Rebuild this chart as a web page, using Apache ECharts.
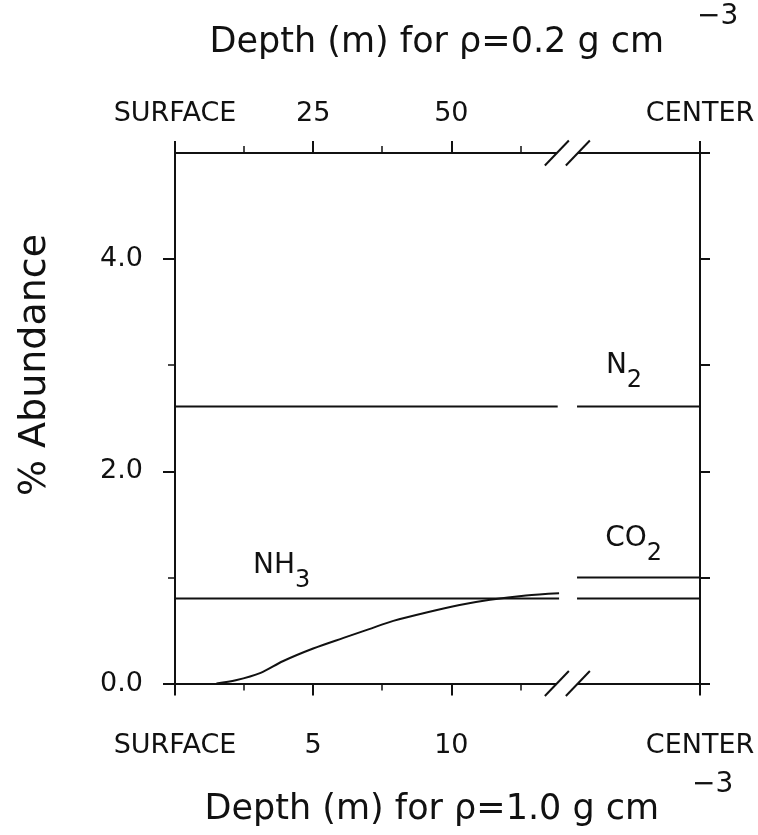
<!DOCTYPE html>
<html><head><meta charset="utf-8">
<script src="https://cdn.jsdelivr.net/npm/echarts@6/dist/echarts.min.js"></script>
<style>html,body{margin:0;padding:0;background:#fff}#c{width:758px;height:835px}</style>
</head><body><div id="c"></div>
<script>
// ---- axis definitions ----
const depthMax = 19;            // bottom axis extent (m, rho = 1.0), labelled CENTER
const densityRatio = 5;         // top axis (rho = 0.2) depth = 5 x bottom depth
const bottomTickValues = [0, 5, 10, 19];
const bottomTickLabels = ['SURFACE', '5', '10', 'CENTER'];
const bottomMinorTicks = [2.5, 7.5, 12.5];
const topTickValues = [0, 25, 50, 95];
const topTickLabels = ['SURFACE', '25', '50', 'CENTER'];
const topMinorTicks = [12.5, 37.5, 62.5];
const yLabelValues = [0, 2, 4];
const yMinorTicks = [1, 3];
const rightTicks = [0, 1, 2, 3, 4, 5];
const breakMarks = [[14.2, 0], [14.2, 5]];

// ---- series values (null = axis break gap) ----
const n2X = [0, 13.85, 14.2, 14.55, 19];
const n2Y = [2.61, 2.61, null, 2.61, 2.61];
const nh3X = [0, 13.9, 14.2, 14.55, 19];
const nh3Y = [0.80, 0.80, null, 0.80, 0.80];
const co2X = [14.55, 19];
const co2Y = [1.00, 1.00];
const profileX = [1.5, 2.2, 3.1, 3.9, 5.0, 6.1, 7.0, 7.9, 9.1, 10.3, 11.4, 12.7, 13.9];
const profileY = [0, 0.03, 0.10, 0.21, 0.33, 0.43, 0.51, 0.59, 0.67, 0.74, 0.79, 0.83, 0.85];

// ---- species labels ----
const speciesNames = ['N', 'CO', 'NH'];
const speciesSubs = ['2', '2', '3'];
const speciesX = [16.25, 16.6, 3.86];
const speciesY = [2.93, 1.30, 1.046];

const FONT = 'DejaVu Sans';
const INK = '#111';
const pairs = (xs, ys) => xs.map((x, i) => [x, ys[i] === null ? '-' : ys[i]]);

const chart = echarts.init(document.getElementById('c'), null, {renderer: 'canvas'});

const lineSeries = (name, xs, ys) => ({
  name, type: 'line', xAxisIndex: 0, yAxisIndex: 0,
  data: pairs(xs, ys), showSymbol: false, symbol: 'none',
  connectNulls: false, lineStyle: {color: INK, width: 2}, z: 3
});

const tickLabelStyle = {fontFamily: FONT, fontSize: 27, color: INK};
const frameLine = {show: true, onZero: false, lineStyle: {color: INK, width: 2}};
const noLine = {show: false, onZero: false};

const titleRich = {
  m: {fontFamily: FONT, fontSize: 35, lineHeight: 57, verticalAlign: 'bottom', fill: INK},
  s: {fontFamily: FONT, fontSize: 28, lineHeight: 30, verticalAlign: 'top', padding: [0, 0, 0, 33], fill: INK}
};

const option = {
  animation: false,
  backgroundColor: '#fff',
  grid: {left: 175, right: 58, top: 153, bottom: 151.5, show: false},
  xAxis: [
    { type: 'value', position: 'bottom', min: 0, max: depthMax,
      axisLine: frameLine,
      axisTick: {show: true, customValues: bottomTickValues, length: 12, lineStyle: {color: INK, width: 2}},
      axisLabel: Object.assign({show: true, customValues: bottomTickValues, margin: 49,
        formatter: v => bottomTickLabels[bottomTickValues.indexOf(v)] ?? ''}, tickLabelStyle),
      splitLine: {show: false} },
    { type: 'value', position: 'bottom', min: 0, max: depthMax,
      axisLine: noLine,
      axisTick: {show: true, customValues: bottomMinorTicks, length: 7, lineStyle: {color: INK, width: 1.5}},
      axisLabel: {show: false}, splitLine: {show: false} },
    { type: 'value', position: 'top', min: 0, max: depthMax * densityRatio,
      axisLine: frameLine,
      axisTick: {show: true, customValues: topTickValues, length: 12, lineStyle: {color: INK, width: 2}},
      axisLabel: Object.assign({show: true, customValues: topTickValues, margin: 26,
        formatter: v => topTickLabels[topTickValues.indexOf(v)] ?? ''}, tickLabelStyle),
      splitLine: {show: false} },
    { type: 'value', position: 'top', min: 0, max: depthMax * densityRatio,
      axisLine: noLine,
      axisTick: {show: true, customValues: topMinorTicks, length: 7, lineStyle: {color: INK, width: 1.5}},
      axisLabel: {show: false}, splitLine: {show: false} }
  ],
  yAxis: [
    { type: 'value', position: 'left', min: 0, max: 5,
      axisLine: frameLine,
      axisTick: {show: true, customValues: yLabelValues, length: 12, lineStyle: {color: INK, width: 2}},
      axisLabel: Object.assign({show: true, customValues: yLabelValues, margin: 32,
        formatter: v => v.toFixed(1)}, tickLabelStyle),
      splitLine: {show: false} },
    { type: 'value', position: 'left', min: 0, max: 5,
      axisLine: noLine,
      axisTick: {show: true, customValues: yMinorTicks, length: 7, lineStyle: {color: INK, width: 1.5}},
      axisLabel: {show: false}, splitLine: {show: false} },
    { type: 'value', position: 'right', min: 0, max: 5,
      axisLine: frameLine,
      axisTick: {show: true, customValues: rightTicks, length: 10, lineStyle: {color: INK, width: 2}},
      axisLabel: {show: false}, splitLine: {show: false} }
  ],
  graphic: [
    { type: 'text', x: 474, y: 31.5, z: 10,
      style: { text: '{m|Depth (m) for ρ=0.2 g cm}{s|−3}', align: 'center', verticalAlign: 'middle', rich: titleRich } },
    { type: 'text', x: 469, y: 799, z: 10,
      style: { text: '{m|Depth (m) for ρ=1.0 g cm}{s|−3}', align: 'center', verticalAlign: 'middle', rich: titleRich } },
    { type: 'text', x: 35, y: 365, rotation: Math.PI / 2, z: 10,
      style: { text: '% Abundance', fontFamily: FONT, fontSize: 38, fill: INK, align: 'center', verticalAlign: 'middle' } }
  ],
  series: [
    lineSeries('N2', n2X, n2Y),
    lineSeries('NH3 level', nh3X, nh3Y),
    lineSeries('CO2', co2X, co2Y),
    Object.assign(lineSeries('NH3 profile', profileX, profileY), {smooth: 0.3}),
    { name: 'labels', type: 'scatter', xAxisIndex: 0, yAxisIndex: 0, symbolSize: 0,
      itemStyle: {opacity: 1, color: INK},
      data: speciesX.map((x, i) => [x, speciesY[i]]),
      label: { show: true, position: 'inside', color: INK, opacity: 1,
        formatter: p => '{m|' + speciesNames[p.dataIndex] + '}{s|' + speciesSubs[p.dataIndex] + '}',
        rich: { m: {fontFamily: FONT, fontSize: 28, lineHeight: 30, verticalAlign: 'top', color: INK},
                s: {fontFamily: FONT, fontSize: 24, lineHeight: 41, verticalAlign: 'bottom', color: INK} } },
      emphasis: {disabled: true},
      z: 5 },
    { name: 'axis break', type: 'custom', xAxisIndex: 0, yAxisIndex: 0, clip: false, z: 6,
      data: breakMarks,
      renderItem: (params, api) => {
        const p = api.coord([api.value(0), api.value(1)]);
        const slash = (cx) => ({type: 'line', shape: {x1: cx - 12, y1: p[1] + 12.5, x2: cx + 12, y2: p[1] - 12.5},
          style: {stroke: INK, lineWidth: 2}});
        return {type: 'group', children: [
          {type: 'rect', shape: {x: p[0] - 10.5, y: p[1] - 3, width: 21, height: 6}, style: {fill: '#fff'}},
          slash(p[0] - 10.5), slash(p[0] + 10.5)
        ]};
      } }
  ]
};
chart.setOption(option);
</script>
</body></html>
